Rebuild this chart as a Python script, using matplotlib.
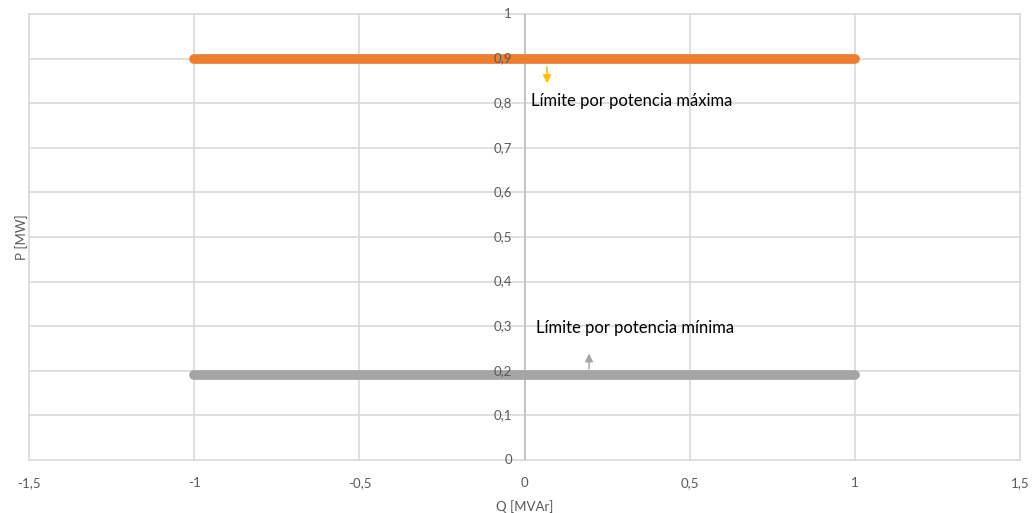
import matplotlib.pyplot as plt

# Limit lines of the P-Q diagram
q_vals = [-1, 1]
p_max = [0.9, 0.9]
p_min = [0.19, 0.19]
x_ticks = [-1.5, -1, -0.5, 0, 0.5, 1, 1.5]
y_ticks = [0, 0.1, 0.2, 0.3, 0.4, 0.5, 0.6, 0.7, 0.8, 0.9, 1]

def fmt(v):
    return f"{v:g}".replace(".", ",")

plt.rcParams['font.family'] = ['Lato', 'DejaVu Sans']

fig = plt.figure(figsize=(10.34, 5.13), dpi=100)
ax = fig.add_axes([0.028, 0.1033, 0.9587, 0.8694])

ax.set_xlim(-1.5, 1.5)
ax.set_ylim(0, 1)
for s in ax.spines.values():
    s.set_visible(False)

# gridlines, including the plot edges
for x in x_ticks:
    ax.axvline(x, color='#D9D9D9', lw=1.2, zorder=0, clip_on=False)
for y in y_ticks:
    ax.axhline(y, color='#D9D9D9', lw=1.2, zorder=0, clip_on=False)
ax.axvline(0, color='#BFBFBF', lw=1.2, zorder=1)

ax.plot(q_vals, p_max, color='#ED7D31', lw=7, solid_capstyle='round', zorder=3)
ax.plot(q_vals, p_min, color='#A5A5A5', lw=7, solid_capstyle='round', zorder=3)

# x tick labels below the plot
ax.set_xticks(x_ticks)
ax.set_xticklabels([fmt(v) for v in x_ticks])
ax.tick_params(axis='x', length=0, pad=12, labelsize=9.5, labelcolor='#595959')
ax.set_yticks([])

# y tick labels sit next to the vertical axis at Q=0, drawn over the lines
for y in y_ticks:
    ax.annotate(fmt(y), (0, y), textcoords='offset points', xytext=(-9, 0),
                ha='right', va='center', fontsize=9.5, color='#595959', zorder=5)

ax.set_xlabel('Q [MVAr]', fontsize=9.5, color='#595959', labelpad=8)
ax.set_ylabel('P [MW]', fontsize=9.5, color='#595959', labelpad=1)

# annotations
ax.annotate('', xy=(0.068, 0.838), xytext=(0.068, 0.887),
            arrowprops=dict(arrowstyle='-|>', color='#FFC000', lw=1.2, mutation_scale=12))
ax.text(0.018, 0.806, 'Límite por potencia máxima', fontsize=12, color='black', va='center')

ax.annotate('', xy=(0.195, 0.245), xytext=(0.195, 0.198),
            arrowprops=dict(arrowstyle='-|>', color='#A5A5A5', lw=1.0, mutation_scale=12))
ax.text(0.035, 0.297, 'Límite por potencia mínima', fontsize=12, color='black', va='center')

fig.savefig('out.png', dpi=100)
